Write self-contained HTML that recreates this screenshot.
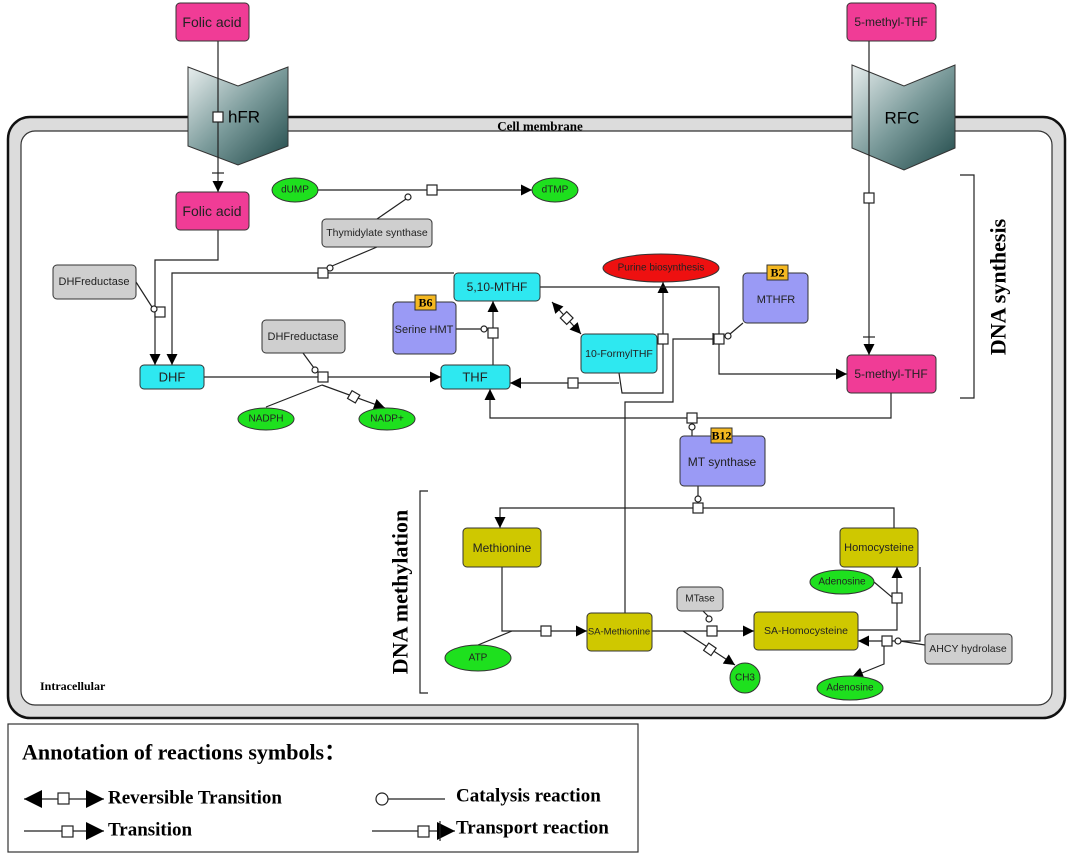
<!DOCTYPE html>
<html><head><meta charset="utf-8"><style>
html,body{margin:0;padding:0;background:#fff;}
svg{display:block;}
.t{font-family:"Liberation Sans",sans-serif;text-anchor:middle;dominant-baseline:central;}
.b{font-family:"Liberation Serif",serif;font-weight:bold;}
.ln{fill:none;stroke:#222;stroke-width:1.2;}
.sq{fill:#fff;stroke:#222;stroke-width:1.2;}
</style></head><body>
<svg width="1072" height="856" viewBox="0 0 1072 856" xmlns="http://www.w3.org/2000/svg">
<defs>
<marker id="a" viewBox="0 0 10 10" refX="10" refY="5" markerWidth="12" markerHeight="11" orient="auto-start-reverse" markerUnits="userSpaceOnUse"><path d="M0,0L10,5L0,10z" fill="#000"/></marker>
<marker id="L" viewBox="0 0 10 10" refX="10" refY="5" markerWidth="18" markerHeight="20" orient="auto-start-reverse" markerUnits="userSpaceOnUse"><path d="M0,0L10,5L0,10z" fill="#000"/></marker>
<linearGradient id="g" x1="0" y1="0" x2="1" y2="1"><stop offset="0" stop-color="#e8eeee"/><stop offset="0.5" stop-color="#7a9a9a"/><stop offset="1" stop-color="#1f4848"/></linearGradient>
</defs>
<rect x="8" y="117" width="1057" height="601" rx="22" fill="#dcdcdc" stroke="#111" stroke-width="2.5"/>
<rect x="21" y="131" width="1031" height="574" rx="14" fill="#fff" stroke="#333" stroke-width="1.2"/>
<text x="540" y="126" class="b" font-size="13" text-anchor="middle" dominant-baseline="central">Cell membrane</text>
<text x="40" y="690" class="b" font-size="12">Intracellular</text>
<polygon points="188,67 238,86 288,67 288,146 238,165 188,146" fill="url(#g)" stroke="#333"/>
<text x="244" y="117" class="t" font-size="17">hFR</text>
<polygon points="852,65 904,86 955,65 955,148 904,170 852,148" fill="url(#g)" stroke="#333"/>
<text x="902" y="118" class="t" font-size="17">RFC</text>
<g class="ln">
<path d="M218,41V192" marker-end="url(#a)"/><path d="M212,173h12"/>
<path d="M869,41V355" marker-end="url(#a)"/><path d="M863,337h12"/>
<path d="M318,190H532" marker-end="url(#a)"/><path d="M377,219L406,199"/>
<path d="M218,230V260H155V365" marker-end="url(#a)"/><path d="M136,282L152,307"/>
<path d="M454,273H172V365" marker-end="url(#a)"/><path d="M377,247L332,266"/>
<path d="M204,377H441" marker-end="url(#a)"/><path d="M303,353L314,368"/>
<path d="M322,385L385,408" marker-end="url(#a)"/><path d="M266,407L322,385"/>
<path d="M493,365V301" marker-end="url(#a)"/><path d="M456,329H482"/>
<path d="M552,302L581,334" marker-end="url(#a)" marker-start="url(#a)"/>
<path d="M619,373L622,393H663V282" marker-end="url(#a)"/>
<path d="M619,383H510" marker-end="url(#a)"/>
<path d="M540,287H719V374H847" marker-end="url(#a)"/><path d="M743,323L730,334"/>
<path d="M713,339H673V402H625V613"/><path d="M713,333v12"/>
<path d="M891,393V418H490V389" marker-end="url(#a)"/><path d="M692,436V428"/>
<path d="M698,486V497"/>
<path d="M894,528V508H500V528" marker-end="url(#a)"/>
<path d="M502,567V631H587" marker-end="url(#a)"/><path d="M478,645L512,631"/>
<path d="M652,631H754" marker-end="url(#a)"/><path d="M703,611L709,617"/>
<path d="M683,631L735,665" marker-end="url(#a)"/>
<path d="M858,630H897V567" marker-end="url(#a)"/><path d="M874,582L893,598"/>
<path d="M920,567V641H858" marker-end="url(#a)"/><path d="M925,645L900,641"/>
<path d="M884,641V664L852,677" marker-end="url(#a)"/>
</g>
<g class="sq">
<rect x="213" y="112" width="10" height="10"/>
<rect x="864" y="193" width="10" height="10"/>
<rect x="427" y="185" width="10" height="10"/><circle cx="408" cy="197" r="3"/>
<rect x="155" y="307" width="10" height="10"/><circle cx="154" cy="309" r="3"/>
<rect x="318" y="268" width="10" height="10"/><circle cx="330" cy="268" r="3"/>
<rect x="318" y="372" width="10" height="10"/><circle cx="315" cy="370" r="3"/>
<rect x="349" y="392" width="9" height="9" transform="rotate(30 353 397)"/>
<rect x="488" y="328" width="10" height="10"/><circle cx="484" cy="329" r="3"/>
<rect x="562" y="313" width="9" height="9" transform="rotate(45 566 318)"/>
<rect x="658" y="334" width="10" height="10"/>
<rect x="568" y="378" width="10" height="10"/>
<rect x="714" y="334" width="10" height="10"/><circle cx="728" cy="336" r="3"/>
<rect x="687" y="413" width="10" height="10"/><circle cx="692" cy="427" r="3"/>
<circle cx="698" cy="499" r="3"/><rect x="693" y="503" width="10" height="10"/>
<rect x="541" y="626" width="10" height="10"/>
<rect x="707" y="626" width="10" height="10"/><circle cx="709" cy="619" r="3"/>
<rect x="705" y="645" width="9" height="9" transform="rotate(35 710 650)"/>
<rect x="892" y="593" width="10" height="10"/>
<rect x="882" y="636" width="10" height="10"/><circle cx="898" cy="641" r="3"/>
</g>
<g stroke="#333" stroke-width="1">
<rect x="176" y="3" width="73" height="38" rx="4" fill="#f03c96"/>
<rect x="176" y="192" width="73" height="38" rx="4" fill="#f03c96"/>
<rect x="847" y="3" width="89" height="38" rx="4" fill="#f03c96"/>
<rect x="847" y="355" width="89" height="38" rx="4" fill="#f03c96"/>
<ellipse cx="295" cy="190" rx="23" ry="12" fill="#1ee01e"/>
<ellipse cx="555" cy="190" rx="23" ry="12" fill="#1ee01e"/>
<rect x="322" y="219" width="110" height="28" rx="4" fill="#cfcfcf"/>
<rect x="53" y="265" width="83" height="34" rx="4" fill="#cfcfcf"/>
<rect x="262" y="320" width="83" height="33" rx="4" fill="#cfcfcf"/>
<rect x="140" y="365" width="64" height="24" rx="4" fill="#2ee8f0"/>
<rect x="441" y="365" width="69" height="24" rx="4" fill="#2ee8f0"/>
<rect x="454" y="273" width="86" height="28" rx="4" fill="#2ee8f0"/>
<rect x="581" y="334" width="76" height="39" rx="4" fill="#2ee8f0"/>
<ellipse cx="266" cy="419" rx="28" ry="11" fill="#1ee01e"/>
<ellipse cx="387" cy="419" rx="28" ry="11" fill="#1ee01e"/>
<rect x="393" y="302" width="63" height="52" rx="4" fill="#9a9af5"/>
<rect x="743" y="273" width="65" height="50" rx="4" fill="#9a9af5"/>
<rect x="680" y="436" width="85" height="50" rx="4" fill="#9a9af5"/>
<ellipse cx="661" cy="268" rx="58" ry="14" fill="#ee1010"/>
<rect x="463" y="528" width="78" height="39" rx="4" fill="#cfc800"/>
<rect x="840" y="528" width="78" height="39" rx="4" fill="#cfc800"/>
<rect x="587" y="613" width="65" height="38" rx="4" fill="#cfc800"/>
<rect x="754" y="612" width="104" height="38" rx="4" fill="#cfc800"/>
<rect x="677" y="587" width="46" height="24" rx="4" fill="#cfcfcf"/>
<rect x="925" y="634" width="87" height="30" rx="4" fill="#cfcfcf"/>
<ellipse cx="842" cy="582" rx="32" ry="12" fill="#1ee01e"/>
<ellipse cx="478" cy="658" rx="33" ry="13" fill="#1ee01e"/>
<ellipse cx="745" cy="678" rx="15" ry="15" fill="#1ee01e"/>
<ellipse cx="850" cy="688" rx="33" ry="12" fill="#1ee01e"/>
<rect x="415" y="295" width="21" height="15" fill="#f5b820"/>
<rect x="767" y="265" width="21" height="15" fill="#f5b820"/>
<rect x="711" y="428" width="21" height="15" fill="#f5b820"/>
</g>
<g class="t" fill="#222">
<text x="212" y="22" font-size="14">Folic acid</text>
<text x="212" y="211" font-size="14">Folic acid</text>
<text x="891" y="22" font-size="12">5-methyl-THF</text>
<text x="891" y="374" font-size="12">5-methyl-THF</text>
<text x="295" y="190" font-size="10">dUMP</text>
<text x="555" y="190" font-size="10">dTMP</text>
<text x="377" y="233" font-size="10.5">Thymidylate synthase</text>
<text x="94" y="282" font-size="11">DHFreductase</text>
<text x="303" y="337" font-size="11">DHFreductase</text>
<text x="172" y="377" font-size="13">DHF</text>
<text x="475" y="377" font-size="13">THF</text>
<text x="497" y="287" font-size="12">5,10-MTHF</text>
<text x="619" y="354" font-size="10.5">10-FormylTHF</text>
<text x="266" y="419" font-size="10">NADPH</text>
<text x="387" y="419" font-size="10">NADP+</text>
<text x="424" y="330" font-size="11">Serine HMT</text>
<text x="776" y="300" font-size="11">MTHFR</text>
<text x="722" y="462" font-size="12">MT synthase</text>
<text x="661" y="268" font-size="10">Purine biosynthesis</text>
<text x="502" y="548" font-size="12">Methionine</text>
<text x="879" y="548" font-size="11">Homocysteine</text>
<text x="619" y="632" font-size="9.5">SA-Methionine</text>
<text x="806" y="631" font-size="10.5">SA-Homocysteine</text>
<text x="700" y="599" font-size="10">MTase</text>
<text x="968" y="649" font-size="10.5">AHCY hydrolase</text>
<text x="842" y="582" font-size="10">Adenosine</text>
<text x="478" y="658" font-size="10">ATP</text>
<text x="745" y="678" font-size="10">CH3</text>
<text x="850" y="688" font-size="10">Adenosine</text>
</g>
<g class="b" font-size="12" text-anchor="middle" dominant-baseline="central">
<text x="425.5" y="302.5">B6</text><text x="777.5" y="272.5">B2</text><text x="721.5" y="435.5">B12</text>
</g>
<path d="M960,175H974V398H960" class="ln"/>
<path d="M428,491H420V693H428" class="ln"/>
<text transform="translate(998,287) rotate(-90)" class="b" font-size="22" text-anchor="middle" dominant-baseline="central">DNA synthesis</text>
<text transform="translate(400,592) rotate(-90)" class="b" font-size="22" text-anchor="middle" dominant-baseline="central">DNA methylation</text>
<rect x="8" y="724" width="630" height="128" fill="#fff" stroke="#333" stroke-width="1.2"/>
<text x="22" y="752" class="b" font-size="22" dominant-baseline="central">Annotation of reactions symbols：</text>
<g class="ln"><path d="M24,799H104" marker-end="url(#L)" marker-start="url(#L)"/><path d="M24,831H104" marker-end="url(#L)"/>
<path d="M388,799H445"/><path d="M372,831H455" marker-end="url(#L)"/><path d="M440,821v20"/></g>
<g class="sq"><rect x="58" y="793" width="11" height="11"/><rect x="62" y="826" width="11" height="11"/><circle cx="382" cy="799" r="6"/><rect x="418" y="826" width="11" height="11"/></g>
<g class="b" font-size="19" dominant-baseline="central">
<text x="108" y="798">Reversible Transition</text><text x="108" y="830">Transition</text>
<text x="456" y="796">Catalysis reaction</text><text x="456" y="828">Transport reaction</text>
</g>
</svg>
</body></html>
